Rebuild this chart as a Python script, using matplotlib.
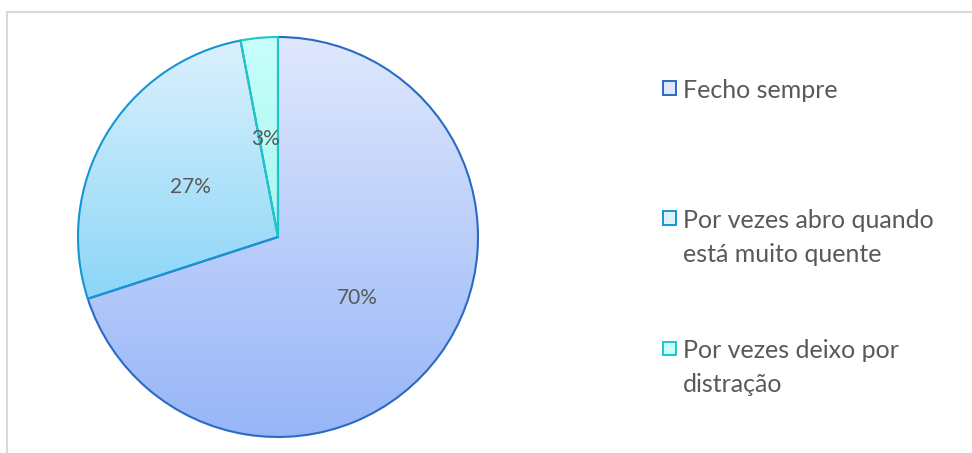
import matplotlib.pyplot as plt
import numpy as np
from matplotlib.colors import LinearSegmentedColormap
from matplotlib.patches import Rectangle, Wedge

labels = ['Fecho sempre', 'Por vezes abro quando\nestá muito quente', 'Por vezes deixo por\ndistração']
values = [70, 27, 3]
pct_labels = ['70%', '27%', '3%']

# gradient (top colour, bottom colour) and edge colour per slice
grad_top = ['#dfe8fd', '#dcf1fd', '#c8fffb']
grad_bot = ['#97b5f8', '#8cd6f8', '#a8f6f0']
edges = ['#2a6ac2', '#1596d4', '#1ec6c8']

plt.rcParams['font.family'] = ['Lato', 'DejaVu Sans']

W, H = 972, 453
fig = plt.figure(figsize=(W / 100, H / 100), dpi=100)

# chart frame
fig.patches.append(Rectangle((7 / W, -0.1), 1.2, (H - 11.5) / H + 0.1, transform=fig.transFigure,
                             fill=False, edgecolor='#d9d9d9', linewidth=1.5))

ax = fig.add_axes([78 / W, 16 / H, 400 / W, 400 / H])
ax.set_xlim(-1, 1)
ax.set_ylim(-1, 1)
ax.set_aspect('equal')
ax.axis('off')

wedges, _ = ax.pie(values, startangle=90, counterclock=False, radius=1,
                   wedgeprops=dict(linewidth=1.5))

for i, w in enumerate(wedges):
    w.set_facecolor('none')
    w.set_edgecolor(edges[i])
    w.set_zorder(3)
    # vertical extent of this slice for a per-slice gradient
    th = np.linspace(np.radians(w.theta1), np.radians(w.theta2), 200)
    ys = np.concatenate([np.sin(th), [0]])
    y0, y1 = ys.min(), ys.max()
    cmap = LinearSegmentedColormap.from_list('g%d' % i, [grad_bot[i], grad_top[i]])
    grad = np.linspace(0, 1, 256).reshape(-1, 1)
    im = ax.imshow(grad, cmap=cmap, origin='lower', extent=(-1, 1, y0, y1),
                   aspect='auto', zorder=2, interpolation='bilinear')
    clip = Wedge((0, 0), 1, w.theta1, w.theta2, transform=ax.transData)
    im.set_clip_path(clip)

ax.set_xlim(-1, 1)
ax.set_ylim(-1, 1)

# percentage labels
label_pos = [(0.395, -0.305), (-0.44, 0.25), (-0.06, 0.49)]
for (x, y), t in zip(label_pos, pct_labels):
    ax.text(x, y, t, ha='center', va='center', fontsize=15, color='#595959', zorder=5)

# legend
leg_y = [88, 218, 348]
for i, (lab, yy) in enumerate(zip(labels, leg_y)):
    fig.patches.append(Rectangle((663 / W, (H - yy - 6.5) / H), 13 / W, 13 / H,
                                 transform=fig.transFigure, facecolor=grad_top[i],
                                 edgecolor=edges[i], linewidth=1.4))
    for k, line in enumerate(lab.split('\n')):
        fig.text(683 / W, (H - yy - 34 * k) / H, line, ha='left', va='center_baseline',
                 fontsize=18, color='#595959')

fig.savefig('out.png', dpi=100)
